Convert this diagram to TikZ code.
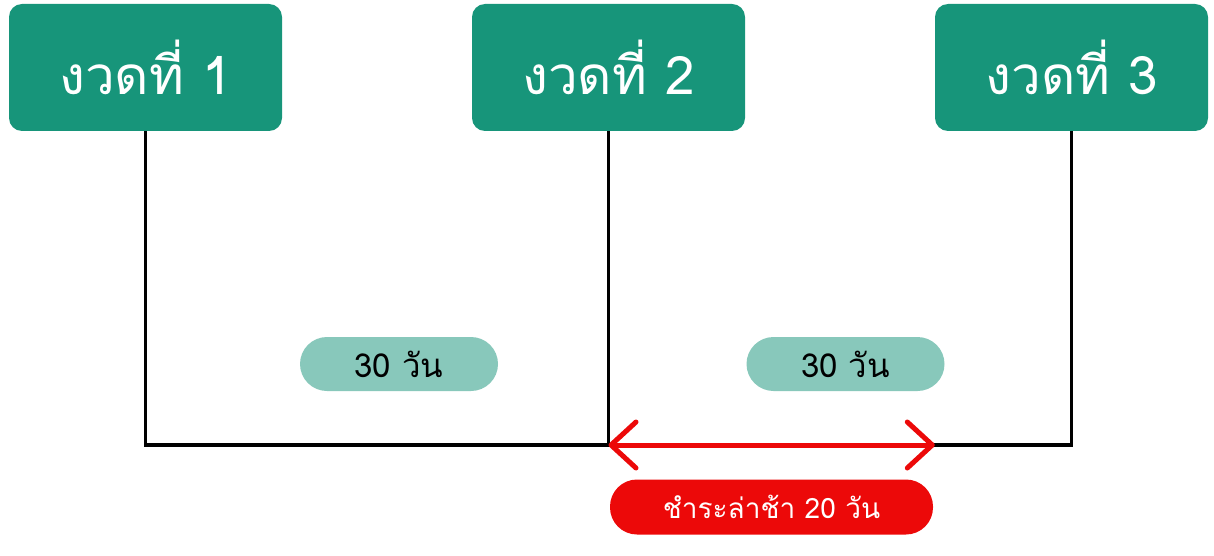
\documentclass[tikz,border=0pt]{standalone}
\usepackage{fontspec}
\newfontfamily\thaifont[Script=Thai]{Loma}
\usetikzlibrary{arrows.meta}
\definecolor{boxgreen}{HTML}{17957A}
\definecolor{pillgreen}{HTML}{88C8BB}
\definecolor{latered}{HTML}{EC0909}
\tikzset{
  period/.style={fill=boxgreen, rounded corners=13pt, minimum width=273pt, minimum height=127pt,
    text=white, font=\thaifont\fontsize{53}{58}\selectfont, inner sep=0pt},
  daypill/.style={fill=pillgreen, rounded corners=27pt, minimum width=198pt, minimum height=54pt,
    text=black, font=\thaifont\fontsize{33}{38}\selectfont, inner sep=0pt},
  latepill/.style={fill=latered, rounded corners=27pt, minimum width=323pt, minimum height=55pt,
    text=white, font=\thaifont\fontsize{28}{32}\selectfont, inner sep=0pt},
  timeline/.style={draw=black, line width=3.2pt},
  latearrow/.style={draw=latered, line width=5pt, line cap=round,
    {Straight Barb[length=25pt, width=46pt, line width=5pt, round]}-{Straight Barb[length=25pt, width=46pt, line width=5pt, round]}}
}
\begin{document}
\begin{tikzpicture}[x=1pt, y=-1pt]
\useasboundingbox (0,0) rectangle (1214,556);
\node[period] (b1) at (145.5,67.5) {งวดที่ 1};
\node[period] (b2) at (608.5,67.5) {งวดที่ 2};
\node[period] (b3) at (1071.5,67.5) {งวดที่ 3};
\coordinate (base) at (0,445);
\draw[timeline] (b1.south) -- (b1.south |- base) -- (b3.south |- base) -- (b3.south);
\draw[timeline] (b2.south) -- (b2.south |- base);
\node[daypill] (p1) at (399,364) {30 วัน};
\node[daypill] (p2) at (845.5,364) {30 วัน};
\coordinate (lateend) at (b3.west |- base);
\draw[latearrow] (b2.south |- base) -- (lateend);
\node[latepill] (r) at (771.5,507) {ชำระล่าช้า 20 วัน};
\end{tikzpicture}
\end{document}
